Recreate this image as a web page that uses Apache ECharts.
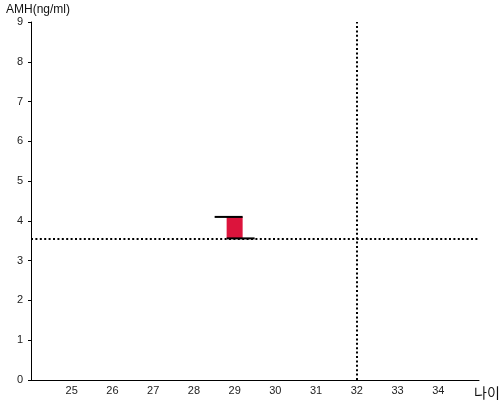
<!DOCTYPE html>
<html><head><meta charset="utf-8">
<script src="https://cdn.jsdelivr.net/npm/echarts@6/dist/echarts.min.js"></script>
<style>html,body{margin:0;padding:0;background:#fff}#c{width:500px;height:400px}</style>
</head><body><div id="c"></div>
<script>
const xAxisName = '나이';
const yAxisName = 'AMH(ng/ml)';
const xMin = 24, xMax = 35;
const yMin = 0, yMax = 9;
// range bar: [age, low AMH, high AMH]
const rangeData = [[29, 3.56, 4.1]];
const refAge = 32;
const refAMH = 3.56;

const chart = echarts.init(document.getElementById('c'));
const font = '"Liberation Sans", Arial, sans-serif';
chart.setOption({
  animation: false,
  title: { text: yAxisName, left: 6, top: 4, padding: 0, textStyle: { fontFamily: font, fontSize: 12, fontWeight: 'normal', color: '#111' } },
  grid: { left: 31, right: 21, top: 22, bottom: 20, containLabel: false, outerBoundsMode: 'none' },
  xAxis: {
    type: 'value', min: xMin, max: xMax, interval: 1,
    name: xAxisName, nameLocation: 'end', nameGap: -5,
    nameTextStyle: { fontFamily: '"Noto Sans CJK KR", sans-serif', fontSize: 14, color: '#111', align: 'left', verticalAlign: 'top', padding: [6, 0, 0, 0] },
    axisLine: { lineStyle: { color: '#000', width: 1 } },
    axisTick: { show: false },
    splitLine: { show: false },
    axisLabel: { showMinLabel: false, showMaxLabel: false, fontFamily: font, fontSize: 11, color: '#222', margin: 5 }
  },
  yAxis: {
    type: 'value', min: yMin, max: yMax, interval: 1,
    axisLine: { show: true, lineStyle: { color: '#000', width: 1 } },
    axisTick: { show: true, length: 3, lineStyle: { color: '#000' } },
    splitLine: { show: false },
    axisLabel: { fontFamily: font, fontSize: 11, color: '#222', margin: 8, padding: [2, 0, 0, 0] }
  },
  series: [{
    type: 'custom',
    data: rangeData,
    renderItem: function (params, api) {
      const x = api.value(0);
      const lo = api.coord([x, api.value(1)]);
      const hi = api.coord([x, api.value(2)]);
      const w = 16;
      return {
        type: 'group',
        children: [
          { type: 'rect', shape: { x: lo[0] - w / 2, y: hi[1], width: w, height: lo[1] - hi[1] }, style: { fill: '#DC143C' } },
          { type: 'line', shape: { x1: hi[0] - 20, y1: hi[1], x2: hi[0] + 8, y2: hi[1] }, style: { stroke: '#000', lineWidth: 2 } },
          { type: 'line', shape: { x1: lo[0] - 8, y1: lo[1], x2: lo[0] + 20, y2: lo[1] }, style: { stroke: '#000', lineWidth: 2 } }
        ]
      };
    },
    markLine: {
      silent: true, symbol: 'none', label: { show: false },
      lineStyle: { color: '#000', width: 2, type: [2, 2.4] },
      data: [{ yAxis: refAMH }, { xAxis: refAge }]
    },
    z: 3
  }]
});
</script></body></html>
